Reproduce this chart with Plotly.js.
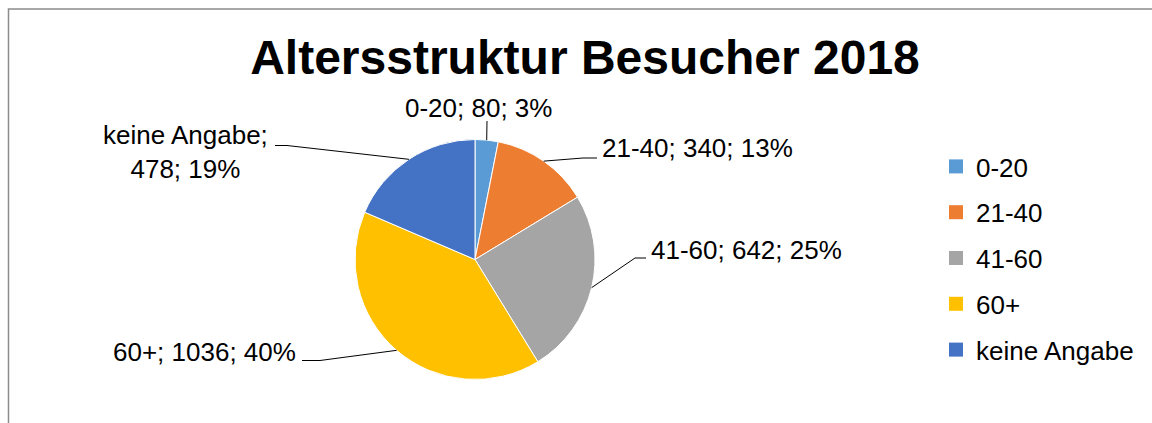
<!DOCTYPE html>
<html>
<head>
<meta charset="utf-8">
<script src="https://cdn.plot.ly/plotly-3.0.1.min.js"></script>
<style>html,body{margin:0;padding:0;background:#fff;}#chart{width:1152px;height:423px;}</style>
</head>
<body>
<div id="chart"></div>
<script>
// ---- data ----
const categories = ['0-20', '21-40', '41-60', '60+', 'keine Angabe'];
const values = [80, 340, 642, 1036, 478];
const titleText = 'Altersstruktur Besucher 2018';

// ---- styles / layout ----
const colors = ['#5B9BD5', '#ED7D31', '#A5A5A5', '#FFC000', '#4472C4'];
const W = 1152, H = 423;
const CX = 475, CY = 259.5, R = 120;
const FONT = 'Liberation Sans, Arial, sans-serif';
// label placement (px): text anchor point, anchors, leader-line elbow + end
const labelPos = [
  {x: 478, y: 108, xa: 'center', elbow: null, end: [487, 121]},
  {x: 600, y: 148, xa: 'left', elbow: [583, 158], end: [597, 158]},
  {x: 649, y: 250, xa: 'left', elbow: [635, 258], end: [646, 258]},
  {x: 298, y: 352, xa: 'right', elbow: [320, 360.5], end: [302, 360.5]},
  {x: 185, y: 152, xa: 'center', elbow: [287, 145.5], end: [275, 145.5]}
];
const labelBreak = [false, false, false, false, true];

const px = x => x / W;
const py = y => 1 - y / H;

const total = values.reduce((a, b) => a + b, 0);
const pct = values.map(v => Math.round(v / total * 100));

const traces = [{
  type: 'pie',
  labels: categories,
  values: values,
  sort: false,
  direction: 'clockwise',
  rotation: 0,
  textinfo: 'none',
  hoverinfo: 'label+value+percent',
  marker: {colors: colors, line: {color: '#ffffff', width: 1}},
  domain: {x: [px(CX - R), px(CX + R)], y: [py(CY + R), py(CY - R)]},
  showlegend: false
}];

// legend entries (one per category) for custom spacing
categories.forEach((c, i) => {
  traces.push({
    type: 'scatter', mode: 'markers', x: [null], y: [null],
    name: c, legendgroup: c, showlegend: true, hoverinfo: 'skip',
    marker: {symbol: 'square', size: 14, color: colors[i]}
  });
});

const annotations = [];
const shapes = [];
let cum = 0;
values.forEach((v, i) => {
  const mid = (cum + v / 2) / total;
  cum += v;
  const th = 2 * Math.PI * mid;
  const ex = CX + R * Math.sin(th), ey = CY - R * Math.cos(th);
  const L = labelPos[i];
  const txt = labelBreak[i]
    ? categories[i] + ';<br>' + values[i] + '; ' + pct[i] + '%'
    : categories[i] + '; ' + values[i] + '; ' + pct[i] + '%';
  annotations.push({
    xref: 'paper', yref: 'paper', x: px(L.x), y: py(L.y),
    xanchor: L.xa, yanchor: 'middle', showarrow: false, align: 'center',
    text: txt, font: {family: FONT, size: 26, color: '#000000'}
  });
  let path = 'M' + px(ex) + ',' + py(ey);
  if (L.elbow) path += ' L' + px(L.elbow[0]) + ',' + py(L.elbow[1]);
  path += ' L' + px(L.end[0]) + ',' + py(L.end[1]);
  shapes.push({type: 'path', xref: 'paper', yref: 'paper', path: path,
    line: {color: '#000000', width: 1}});
});

// chart-area border
shapes.push({type: 'rect', xref: 'paper', yref: 'paper',
  x0: px(8.5), x1: 1.05, y0: -0.1, y1: py(9),
  line: {color: '#8c8c8c', width: 1.5}, fillcolor: 'rgba(0,0,0,0)'});

const layout = {
  width: W, height: H,
  margin: {l: 0, r: 0, t: 0, b: 0},
  paper_bgcolor: '#ffffff', plot_bgcolor: '#ffffff',
  font: {family: FONT, color: '#000000'},
  title: {text: '<b>' + titleText + '</b>', x: px(585), xanchor: 'center',
    y: py(57), yanchor: 'middle', yref: 'paper',
    font: {family: FONT, size: 48, color: '#000000'}},
  xaxis: {visible: false}, yaxis: {visible: false},
  showlegend: true,
  legend: {x: px(936), xanchor: 'left', y: py(143), yanchor: 'top',
    font: {family: FONT, size: 26, color: '#000000'},
    bgcolor: 'rgba(0,0,0,0)', tracegroupgap: 9, traceorder: 'grouped',
    itemclick: false, itemdoubleclick: false},
  annotations: annotations,
  shapes: shapes
};

Plotly.newPlot('chart', traces, layout, {displayModeBar: false, responsive: false});
</script>
</body>
</html>
